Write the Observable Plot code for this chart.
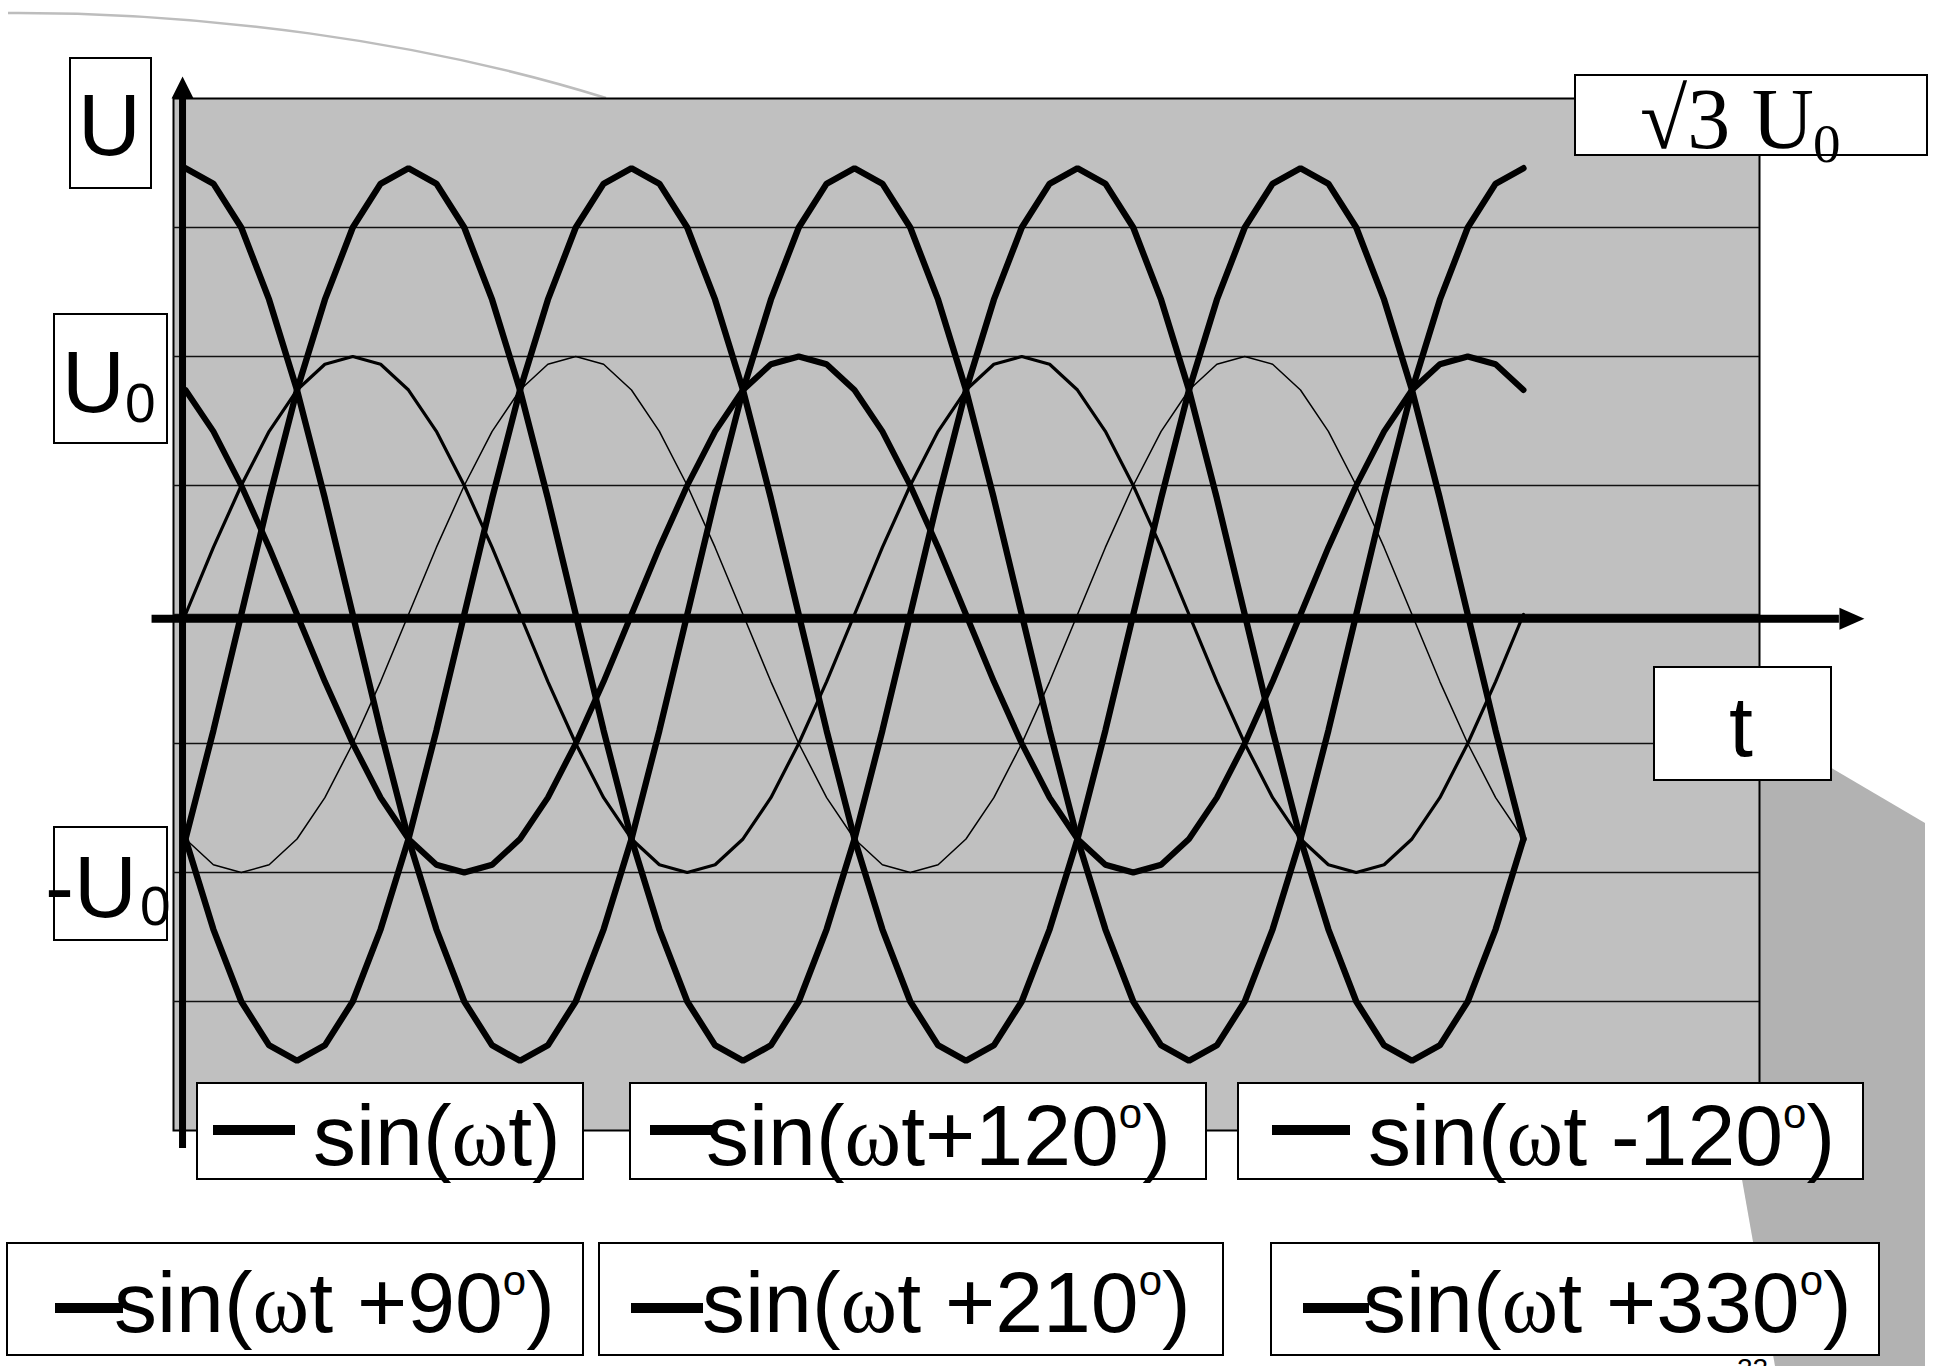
<!DOCTYPE html>
<html>
<head>
<meta charset="utf-8">
<script src="https://cdn.jsdelivr.net/npm/d3@7"></script>
<script src="https://cdn.jsdelivr.net/npm/@observablehq/plot@0.6"></script>
<style>
html, body { margin: 0; padding: 0; overflow: hidden; background: #fff; }
#stage { position: relative; width: 1933px; height: 1366px; overflow: hidden; }
#stage > svg { position: absolute; left: 0; top: 0; }
</style>
</head>
<body>
<div id="stage"></div>
<script>
// ---------- DATA ----------
// phase angle ωt in degrees (category axis)
const phase = [0,15,30,45,60,75,90,105,120,135,150,165,180,195,210,225,240,255,270,285,300,315,330,345,
               360,375,390,405,420,435,450,465,480,495,510,525,540,555,570,585,600,615,630,645,660,675,690,705,720];

// phase voltages, in units of U0
const sinWt = [0,0.26,0.5,0.71,0.87,0.97,1,0.97,0.87,0.71,0.5,0.26,0,-0.26,-0.5,-0.71,-0.87,-0.97,-1,-0.97,-0.87,-0.71,-0.5,-0.26,
               0,0.26,0.5,0.71,0.87,0.97,1,0.97,0.87,0.71,0.5,0.26,0,-0.26,-0.5,-0.71,-0.87,-0.97,-1,-0.97,-0.87,-0.71,-0.5,-0.26,0];
const sinWtPlus120 = [0.87,0.71,0.5,0.26,0,-0.26,-0.5,-0.71,-0.87,-0.97,-1,-0.97,-0.87,-0.71,-0.5,-0.26,0,0.26,0.5,0.71,0.87,0.97,1,0.97,
                      0.87,0.71,0.5,0.26,0,-0.26,-0.5,-0.71,-0.87,-0.97,-1,-0.97,-0.87,-0.71,-0.5,-0.26,0,0.26,0.5,0.71,0.87,0.97,1,0.97,0.87];
const sinWtMinus120 = [-0.87,-0.97,-1,-0.97,-0.87,-0.71,-0.5,-0.26,0,0.26,0.5,0.71,0.87,0.97,1,0.97,0.87,0.71,0.5,0.26,0,-0.26,-0.5,-0.71,
                       -0.87,-0.97,-1,-0.97,-0.87,-0.71,-0.5,-0.26,0,0.26,0.5,0.71,0.87,0.97,1,0.97,0.87,0.71,0.5,0.26,0,-0.26,-0.5,-0.71,-0.87];
// line voltages (amplitude √3 U0)
const sinWtPlus90 = [1.73,1.67,1.5,1.22,0.87,0.45,0,-0.45,-0.87,-1.22,-1.5,-1.67,-1.73,-1.67,-1.5,-1.22,-0.87,-0.45,0,0.45,0.87,1.22,1.5,1.67,
                     1.73,1.67,1.5,1.22,0.87,0.45,0,-0.45,-0.87,-1.22,-1.5,-1.67,-1.73,-1.67,-1.5,-1.22,-0.87,-0.45,0,0.45,0.87,1.22,1.5,1.67,1.73];
const sinWtPlus210 = [-0.87,-1.22,-1.5,-1.67,-1.73,-1.67,-1.5,-1.22,-0.87,-0.45,0,0.45,0.87,1.22,1.5,1.67,1.73,1.67,1.5,1.22,0.87,0.45,0,-0.45,
                      -0.87,-1.22,-1.5,-1.67,-1.73,-1.67,-1.5,-1.22,-0.87,-0.45,0,0.45,0.87,1.22,1.5,1.67,1.73,1.67,1.5,1.22,0.87,0.45,0,-0.45,-0.87];
const sinWtPlus330 = [-0.87,-0.45,0,0.45,0.87,1.22,1.5,1.67,1.73,1.67,1.5,1.22,0.87,0.45,0,-0.45,-0.87,-1.22,-1.5,-1.67,-1.73,-1.67,-1.5,-1.22,
                      -0.87,-0.45,0,0.45,0.87,1.22,1.5,1.67,1.73,1.67,1.5,1.22,0.87,0.45,0,-0.45,-0.87,-1.22,-1.5,-1.67,-1.73,-1.67,-1.5,-1.22,-0.87];

const seriesLabels = ["sin(ωt)", "sin(ωt+120°)", "sin(ωt -120°)", "sin(ωt +90°)", "sin(ωt +210°)", "sin(ωt +330°)"];
const gridLevels = [1.5, 1, 0.5, 0, -0.5, -1, -1.5];
const axisLabels = ["U", "U", "-U", "√3 U", "t"];

// hand-drawn axes of the slide (in data units)
const tAxis = {from: -18, to: 890, level: -0.016};
const uAxis = {from: -2.07, to: 2.0, at: -1.6};

// ---------- CHART ----------
const series = [sinWt, sinWtPlus120, sinWtMinus120, sinWtPlus90, sinWtPlus210, sinWtPlus330];
const widths = [3.2, 6, 1.5, 6.3, 6.3, 6.3];
const rows = [];
series.forEach((vals, k) => vals.forEach((v, i) => rows.push({t: phase[i], v, s: seriesLabels[k]})));

const arrowUp = {draw(ctx) { ctx.moveTo(0, -22); ctx.lineTo(11, 0); ctx.lineTo(-11, 0); ctx.closePath(); }};
const arrowRight = {draw(ctx) { ctx.moveTo(25, 0); ctx.lineTo(0, -11); ctx.lineTo(0, 11); ctx.closePath(); }};

const stage = document.getElementById("stage");

// background decorations (slide template)
const bg = d3.select(stage).append("svg").attr("width", 1933).attr("height", 1366);
bg.append("path").attr("d", "M8,13 C200,12 420,40 606,98").attr("fill", "none").attr("stroke", "#bdbdbd").attr("stroke-width", 2.5);
bg.append("polygon").attr("points", "1760,726 1925,823 1925,1366 1775,1366 1735,1140 1740,726").attr("fill", "#b2b2b2");

const chart = Plot.plot({
  width: 1933,
  height: 1366,
  marginLeft: 173,
  marginRight: 174,
  marginTop: 98,
  marginBottom: 236,
  style: {background: "transparent", overflow: "visible"},
  x: {domain: [-6.46, 847], axis: null},
  y: {domain: [-2, 2], axis: null},
  marks: [
    Plot.frame({fill: "#c0c0c0", stroke: "#000", strokeWidth: 2}),
    Plot.ruleY(gridLevels, {stroke: "#111", strokeWidth: 1.6}),
    ...seriesLabels.map((lab, k) => Plot.line(rows.filter(r => r.s === lab), {
      x: "t", y: "v", stroke: "#000", strokeWidth: widths[k],
      strokeLinejoin: "miter", strokeLinecap: "round"
    })),
    Plot.ruleY([tAxis], {y: "level", x1: "from", x2: "to", stroke: "#000", strokeWidth: 8}),
    Plot.ruleX([uAxis], {x: "at", y1: "from", y2: "to", stroke: "#000", strokeWidth: 7}),
    Plot.dot([tAxis], {x: "to", y: "level", symbol: arrowRight, fill: "#000", stroke: null}),
    Plot.dot([uAxis], {x: "at", y: "to", symbol: arrowUp, fill: "#000", stroke: null})
  ]
});
stage.appendChild(chart);

// ---------- ANNOTATION BOXES ----------
const ov = d3.select(stage).append("svg").attr("width", 1933).attr("height", 1366);
const SANS = "'Liberation Sans', Arial, Helvetica, sans-serif";
const SERIF = "'Liberation Serif', 'Times New Roman', serif";
function box(x, y, w, h) {
  ov.append("rect").attr("x", x).attr("y", y).attr("width", w).attr("height", h)
    .attr("fill", "#fff").attr("stroke", "#000").attr("stroke-width", 2);
}
function txt(x, y, s, size, fam) {
  return ov.append("text").attr("x", x).attr("y", y).attr("font-family", fam || SANS)
    .attr("font-size", size).attr("fill", "#000").text(s);
}

// U
box(70, 58, 81, 130);
txt(78, 155, axisLabels[0], 87);
// U0
box(54, 314, 113, 129);
txt(62, 412, axisLabels[1], 87);
txt(125, 422, "0", 55);
// -U0
box(54, 827, 113, 113);
txt(45, 917, axisLabels[2], 87);
txt(140, 925, "0", 55);
// √3 U0
box(1575, 75, 352, 80);
txt(1640, 148, axisLabels[3], 86, SERIF);
txt(1813, 162, "0", 55, SERIF);
// t
box(1654, 667, 177, 113);
txt(1729, 756, axisLabels[4], 86);

// legend entries
const legendPos = [
  {x: 197, y: 1083, w: 386, h: 96, d0: 213, d1: 295, dy: 1130, tx: 313, by: 1165},
  {x: 630, y: 1083, w: 576, h: 96, d0: 650, d1: 716, dy: 1130, tx: 706, by: 1165},
  {x: 1238, y: 1083, w: 625, h: 96, d0: 1272, d1: 1350, dy: 1130, tx: 1368, by: 1165},
  {x: 7, y: 1243, w: 576, h: 112, d0: 55, d1: 123, dy: 1308, tx: 114, by: 1332},
  {x: 599, y: 1243, w: 624, h: 112, d0: 631, d1: 703, dy: 1308, tx: 702, by: 1332},
  {x: 1271, y: 1243, w: 608, h: 112, d0: 1303, d1: 1369, dy: 1308, tx: 1363, by: 1332}
];
seriesLabels.forEach((lab, k) => {
  const p = legendPos[k];
  box(p.x, p.y, p.w, p.h);
  ov.append("line").attr("x1", p.d0).attr("x2", p.d1).attr("y1", p.dy).attr("y2", p.dy)
    .attr("stroke", "#000").attr("stroke-width", 10);
  const t = ov.append("text").attr("x", p.tx).attr("y", p.by).attr("font-family", SANS)
    .attr("font-size", 86).attr("fill", "#000");
  const [pre, rest] = lab.split("ω");
  t.append("tspan").text(pre);
  t.append("tspan").attr("font-family", SERIF).text("ω");
  if (rest.includes("°")) {
    const [mid, end] = rest.split("°");
    t.append("tspan").text(mid);
    t.append("tspan").attr("font-size", 42).attr("dy", -37).text("o");
    t.append("tspan").attr("dy", 37).text(end);
  } else {
    t.append("tspan").text(rest);
  }
});

// slide number (cut off at the bottom edge)
txt(1737, 1378, "22", 28);
</script>
</body>
</html>
